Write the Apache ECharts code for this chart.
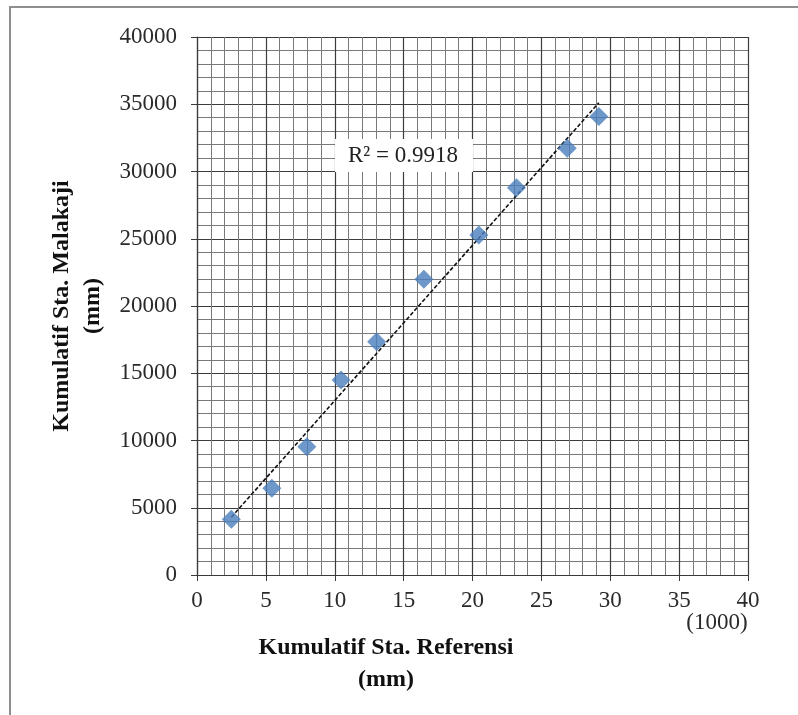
<!DOCTYPE html>
<html>
<head>
<meta charset="utf-8">
<script src="https://cdn.jsdelivr.net/npm/echarts@6/dist/echarts.min.js"></script>
<style>
  html, body { margin: 0; padding: 0; background: #fff; }
  #chart { width: 798px; height: 715px; }
</style>
</head>
<body>
<div id="chart"></div>
<script>
// Cumulative rainfall, reference station (thousands of mm) vs. Malakaji station (mm)
const kumulatifReferensi = [2.49, 5.43, 7.97, 10.46, 13.04, 16.47, 20.46, 23.19, 26.88, 29.17];
const kumulatifMalakaji = [4140, 6450, 9540, 14500, 17350, 21990, 25280, 28800, 31720, 34080];

const xTicks = [0, 5, 10, 15, 20, 25, 30, 35, 40];
const yTicks = [0, 5000, 10000, 15000, 20000, 25000, 30000, 35000, 40000];
const r2Text = 'R² = 0.9918';
const xTitle = ['Kumulatif Sta. Referensi', '(mm)'];
const yTitle = 'Kumulatif Sta. Malakaji\n(mm)';

// least-squares linear trend through the points
function linearFit(xs, ys) {
  const n = xs.length;
  const mx = xs.reduce((a, b) => a + b, 0) / n;
  const my = ys.reduce((a, b) => a + b, 0) / n;
  let sxy = 0, sxx = 0;
  for (let i = 0; i < n; i++) {
    sxy += (xs[i] - mx) * (ys[i] - my);
    sxx += (xs[i] - mx) * (xs[i] - mx);
  }
  const slope = sxy / sxx;
  return { slope, intercept: my - slope * mx };
}
const fit = linearFit(kumulatifReferensi, kumulatifMalakaji);
const xMin = Math.min(...kumulatifReferensi);
const xMax = Math.max(...kumulatifReferensi);
const trend = [
  [xMin, fit.intercept + fit.slope * xMin],
  [xMax, fit.intercept + fit.slope * xMax]
];

const points = kumulatifReferensi.map((x, i) => [x, kumulatifMalakaji[i]]);

const serif = '"Liberation Serif", "Times New Roman", serif';
const titleStyle = { fontFamily: serif, fontWeight: 'bold', fontSize: 24, fill: '#111', align: 'center', verticalAlign: 'middle' };

const chart = echarts.init(document.getElementById('chart'), null, { renderer: 'canvas' });
chart.setOption({
  backgroundColor: '#fff',
  animation: false,
  grid: { left: 197, right: 50, top: 37, bottom: 140, containLabel: false },
  xAxis: {
    type: 'value',
    min: xTicks[0],
    max: xTicks[xTicks.length - 1],
    interval: 5,
    axisLine: { show: true, lineStyle: { color: '#3a3a3a', width: 1.2 } },
    axisTick: { show: true, inside: false, length: 6, lineStyle: { color: '#3a3a3a' } },
    axisLabel: {
      fontFamily: serif, fontSize: 23, color: '#2a2a2a', margin: 14,
      formatter: v => (xTicks.indexOf(v) >= 0 ? String(v) : '')
    },
    splitLine: { show: true, lineStyle: { color: '#3c3c3c', width: 1.2 } },
    minorTick: { show: false, splitNumber: 5 },
    minorSplitLine: { show: true, lineStyle: { color: '#7a7a7a', width: 1 } }
  },
  yAxis: {
    type: 'value',
    min: yTicks[0],
    max: yTicks[yTicks.length - 1],
    interval: 5000,
    name: yTitle,
    nameLocation: 'middle',
    nameRotate: 90,
    nameGap: 88,
    nameTextStyle: { fontFamily: serif, fontWeight: 'bold', fontSize: 24, color: '#111', lineHeight: 31 },
    axisLine: { show: true, lineStyle: { color: '#3a3a3a', width: 1.2 } },
    axisTick: { show: true, inside: false, length: 6, lineStyle: { color: '#3a3a3a' } },
    axisLabel: {
      fontFamily: serif, fontSize: 23, color: '#2a2a2a', margin: 20,
      formatter: v => (yTicks.indexOf(v) >= 0 ? String(v) : '')
    },
    splitLine: { show: true, lineStyle: { color: '#3c3c3c', width: 1.2 } },
    minorTick: { show: false, splitNumber: 5 },
    minorSplitLine: { show: true, lineStyle: { color: '#7a7a7a', width: 1 } }
  },
  series: [
    {
      name: 'Trend',
      type: 'line',
      data: trend,
      symbol: 'none',
      lineStyle: { color: '#111', width: 1.6, type: [4, 2] },
      z: 3
    },
    {
      name: 'Kumulatif',
      type: 'scatter',
      data: points,
      symbol: 'diamond',
      symbolSize: [19, 19],
      itemStyle: { color: '#4a7ebb' },
      z: 4
    }
  ],
  graphic: [
    // outer chart frame
    {
      type: 'rect',
      shape: { x: 10, y: 7, width: 820, height: 740 },
      style: { fill: 'none', stroke: '#8f8f8f', lineWidth: 2 },
      silent: true
    },
    // trendline label box
    {
      type: 'rect',
      shape: { x: 335, y: 139, width: 138, height: 33 },
      style: { fill: '#fff' },
      z: 10
    },
    {
      type: 'text',
      x: 403,
      y: 156,
      style: {
        text: r2Text, fontFamily: serif, fontSize: 23, fill: '#222',
        align: 'center', verticalAlign: 'middle'
      },
      z: 11
    },
    // x-axis unit multiplier
    {
      type: 'text',
      x: 717,
      y: 623,
      style: {
        text: '(1000)', fontFamily: serif, fontSize: 23, fill: '#2a2a2a',
        align: 'center', verticalAlign: 'middle'
      }
    },
    // x-axis title
    { type: 'text', x: 386, y: 648, style: Object.assign({ text: xTitle[0] }, titleStyle) },
    { type: 'text', x: 386, y: 680, style: Object.assign({ text: xTitle[1] }, titleStyle) }
  ]
});
</script>
</body>
</html>
